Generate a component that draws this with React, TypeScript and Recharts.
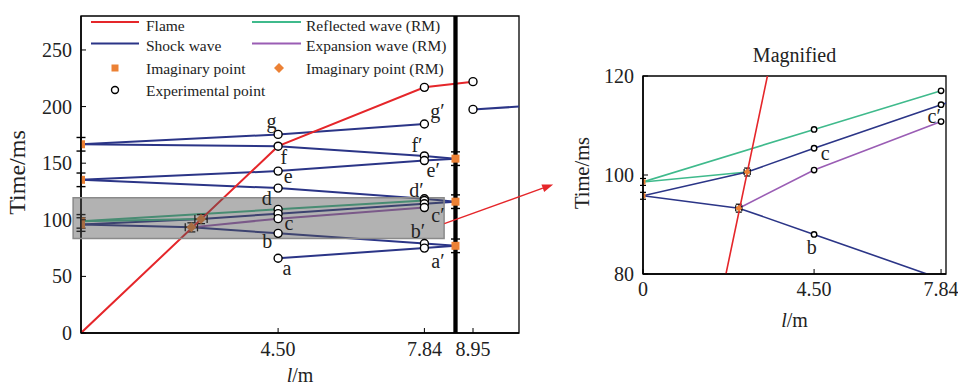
import React from 'react';
import {
  ComposedChart,
  Line,
  Scatter,
  XAxis,
  YAxis,
  ReferenceArea,
  ReferenceLine,
  ErrorBar,
  Legend,
} from 'recharts';

const FONT = '"Liberation Serif", "Times New Roman", Times, serif';
const RED = '#e5262a';
const NAVY = '#2b3587';
const GREEN = '#3fba8c';
const PURPLE = '#9a5db4';
const ORANGE = '#ec8135';
const TXT = '#222';

// ---------- data (l in m, time in ms) ----------
const flame = [[0, 0], [4.5, 165], [7.84, 217], [8.95, 222]];
const shockA = [[4.5, 66], [7.84, 75], [8.55, 77]];
const shockB = [[0, 95.8], [2.52, 93.3], [4.5, 88], [7.84, 79], [8.55, 77]];
const shockC = [[0, 95.8], [2.74, 100.6], [4.5, 105.4], [7.84, 114.2], [8.55, 116]];
const shockD = [[0, 135.3], [4.5, 128], [7.84, 118.6], [8.55, 116]];
const shockE = [[0, 135.3], [4.5, 143], [7.84, 152.3], [8.55, 154]];
const shockF = [[0, 166.7], [4.5, 165], [7.84, 156.4], [8.55, 154]];
const shockG = [[0, 166.7], [4.5, 175.4], [7.84, 184.6]];
const shockH = [[8.95, 197.5], [10, 200]];
const reflected = [[0, 98.6], [4.5, 109.2], [7.84, 117]];
const reflectedShort = [[0, 98.6], [2.74, 100.6]];
const expansion = [[2.52, 93.3], [4.5, 101], [7.84, 110.8]];

const expMain = [
  [4.5, 175.4], [4.5, 165], [4.5, 143], [4.5, 128], [4.5, 109.2], [4.5, 105.4], [4.5, 101], [4.5, 88], [4.5, 66],
  [7.84, 217], [7.84, 184.6], [7.84, 156.4], [7.84, 152.3], [7.84, 118.6], [7.84, 117], [7.84, 114.2], [7.84, 110.8],
  [7.84, 79], [7.84, 75], [8.95, 222], [8.95, 197.5],
];
const expMag = [[4.5, 109.2], [7.84, 117], [4.5, 105.4], [7.84, 114.2], [4.5, 101], [7.84, 110.8], [4.5, 88]];

const imagMain = [[0, 166.7], [0, 135.3], [0, 98.6], [0, 95.8], [8.55, 154], [8.55, 116], [8.55, 77]];
const imagMag = [[0, 98.6], [0, 95.8]];
const imagRM = [[2.52, 93.3], [2.74, 100.6]];
const errMainY = 6;
const errMagY = 0.7;
const errRMMainX = 0.14;
const errRMMainY = 4;
const errRMMagX = 0.08;
const errRMMagY = 0.8;

const wallX = 8.55;
const boxX = [-0.18, 8.29];
const boxY = [83.4, 119.5];
const arrowFrom = { x: 8.295, y: 96.6 };
const arrowTo = { x: 10.78, y: 131.2 };

const labelsMain = [
  { t: 'a', x: 4.7, y: 51.1 },
  { t: 'b', x: 4.25, y: 74.8 },
  { t: 'c', x: 4.75, y: 90.7 },
  { t: 'd', x: 4.24, y: 112.7 },
  { t: 'e', x: 4.73, y: 132.3 },
  { t: 'f', x: 4.63, y: 149.4 },
  { t: 'g', x: 4.35, y: 180.9 },
  { t: 'a\u2032', x: 8.15, y: 57.2 },
  { t: 'b\u2032', x: 7.69, y: 83.6 },
  { t: 'c\u2032', x: 8.15, y: 98 },
  { t: 'd\u2032', x: 7.66, y: 120 },
  { t: 'e\u2032', x: 8.04, y: 137.6 },
  { t: 'f\u2032', x: 7.67, y: 159.6 },
  { t: 'g\u2032', x: 8.14, y: 190.1 },
];
const labelsMag = [
  { t: 'c', x: 4.79, y: 103.0 },
  { t: 'c\u2032', x: 7.66, y: 110.5 },
  { t: 'b', x: 4.44, y: 84.1 },
];

const mainXTicks = [4.5, 7.84, 8.95];
const mainYTicks = [0, 50, 100, 150, 200, 250];
const magXTicks = [0, 4.5, 7.84];
const magYTicks = [80, 100, 120];
const mainXDomain = [0, 10];
const mainYDomain = [0, 280];
const magXDomain = [0, 7.97];
const magYDomain = [80, 120];

// ---------- helpers ----------
type Pt = { x: number; y: number; ex?: number; ey?: number; t?: string };
const toPts = (a: number[][], ex?: number, ey?: number): Pt[] =>
  a.map(([x, y]) => ({ x, y, ex, ey }));

const circleShape = (r: number) => (p: any) =>
  <circle cx={p.cx} cy={p.cy} r={r} fill="#fff" stroke="#000" strokeWidth={1.4} />;
const squareShape = (s: number) => (p: any) =>
  <rect x={p.cx - s / 2} y={p.cy - s / 2} width={s} height={s} fill={ORANGE} />;
const diamondShape = (s: number) => (p: any) =>
  <polygon
    points={`${p.cx},${p.cy - s / 2} ${p.cx + s / 2},${p.cy} ${p.cx},${p.cy + s / 2} ${p.cx - s / 2},${p.cy}`}
    fill={ORANGE}
  />;
const textShape = (p: any) =>
  <text x={p.cx} y={p.cy} textAnchor="middle" fontSize={20} fontFamily={FONT} fill={TXT}
    style={{ fontFamily: FONT }}>{p.payload.t}</text>;

const ArrowShape = (p: any) => {
  const { x1, y1, x2, y2 } = p;
  const ang = Math.atan2(y2 - y1, x2 - x1);
  const L = 11, W = 4;
  const bx = x2 - L * Math.cos(ang), by = y2 - L * Math.sin(ang);
  const nx = -Math.sin(ang) * W, ny = Math.cos(ang) * W;
  return (
    <g>
      <line x1={x1} y1={y1} x2={bx} y2={by} stroke={RED} strokeWidth={1.4} />
      <polygon points={`${x2},${y2} ${bx + nx},${by + ny} ${bx - nx},${by - ny}`} fill={RED} />
    </g>
  );
};

const fmt2 = (v: number) => (v === 0 ? '0' : v.toFixed(2));
const YTick = (p: any) => (
  <text x={p.x} y={p.y} dy="0.35em" textAnchor="end" fontSize={20} fill={TXT}
    style={{ fontFamily: FONT }}>{String(p.payload.value)}</text>
);
const XTick = (p: any) => (
  <text x={p.x} y={p.y} dy="0.71em" textAnchor="middle" fontSize={20} fill={TXT}
    style={{ fontFamily: FONT }}>{fmt2(p.payload.value)}</text>
);

const MainLegend = () => {
  const row = [22, 43.5, 68, 90];
  const base = [31, 51, 73.5, 95.5];
  const c1 = { l1: 91, l2: 139, m: 115, t: 146 };
  const c2 = { l1: 252, l2: 301, m: 279, t: 306 };
  const tp = { fontSize: 15.5, fill: TXT, style: { fontFamily: FONT } } as const;
  return (
    <svg width={540} height={110} style={{ display: 'block' }}>
      <line x1={c1.l1} x2={c1.l2} y1={row[0]} y2={row[0]} stroke={RED} strokeWidth={2} />
      <text x={c1.t} y={base[0]} {...tp}>Flame</text>
      <line x1={c1.l1} x2={c1.l2} y1={row[1]} y2={row[1]} stroke={NAVY} strokeWidth={2} />
      <text x={c1.t} y={base[1]} {...tp}>Shock wave</text>
      <rect x={c1.m - 3.5} y={row[2] - 3.5} width={7} height={7} fill={ORANGE} />
      <text x={c1.t} y={base[2]} {...tp}>Imaginary point</text>
      <circle cx={c1.m} cy={row[3]} r={3.5} fill="#fff" stroke="#000" strokeWidth={1.4} />
      <text x={c1.t} y={base[3]} {...tp}>Experimental point</text>
      <line x1={c2.l1} x2={c2.l2} y1={row[0]} y2={row[0]} stroke={GREEN} strokeWidth={2} />
      <text x={c2.t} y={base[0]} {...tp}>Reflected wave (RM)</text>
      <line x1={c2.l1} x2={c2.l2} y1={row[1]} y2={row[1]} stroke={PURPLE} strokeWidth={2} />
      <text x={c2.t} y={base[1]} {...tp}>Expansion wave (RM)</text>
      <polygon points={`${c2.m},${row[2] - 5} ${c2.m + 5},${row[2]} ${c2.m},${row[2] + 5} ${c2.m - 5},${row[2]}`} fill={ORANGE} />
      <text x={c2.t} y={base[2]} {...tp}>Imaginary point (RM)</text>
    </svg>
  );
};

const axisLine = { stroke: '#000', strokeWidth: 1.5 };

const yTitle = (dx: number, size: number) => (props: any) => {
  const vb = props.viewBox;
  const cx = vb.x + dx;
  const cy = vb.y + vb.height / 2 - 2;
  return (
    <text x={cx} y={cy} transform={`rotate(-90, ${cx}, ${cy})`} textAnchor="middle"
      fontSize={size} fill={TXT} style={{ fontFamily: FONT }}>Time/ms</text>
  );
};
const xTitle = (dy: number) => (props: any) => {
  const vb = props.viewBox;
  return (
    <text x={vb.x + vb.width / 2} y={vb.y + dy} textAnchor="middle" fontSize={20} fill={TXT}
      style={{ fontFamily: FONT }}>
      <tspan fontStyle="italic">l</tspan>/m
    </text>
  );
};
const TitleLabel = (props: any) => {
  const vb = props.viewBox;
  return (
    <text x={vb.x + vb.width / 2} y={vb.y - 14} textAnchor="middle" fontSize={20} fill={TXT}
      style={{ fontFamily: FONT }}>Magnified</text>
  );
};

const MainChart = () => (
  <ComposedChart width={560} height={386} margin={{ top: 16, right: 41, bottom: 0, left: 0 }}
    style={{ fontFamily: FONT }}>
    <XAxis type="number" dataKey="x" domain={mainXDomain} ticks={mainXTicks} allowDataOverflow
      height={53} tickSize={-5} tickMargin={14}
      tick={XTick} axisLine={axisLine} tickLine={{ stroke: '#000' }} label={xTitle(49)} />
    <YAxis type="number" dataKey="y" domain={mainYDomain} ticks={mainYTicks} allowDataOverflow
      width={81} tickSize={-5} tickMargin={14} tick={YTick} axisLine={axisLine}
      tickLine={{ stroke: '#000' }} label={yTitle(25, 24)} />
    <Legend verticalAlign="middle" align="center" layout="horizontal"
      wrapperStyle={{ left: 0, top: 0, width: 540, height: 110 }} content={() => <MainLegend />} />
    <ReferenceArea x1={mainXDomain[0]} x2={mainXDomain[1]} y1={mainYDomain[0]} y2={mainYDomain[1]}
      fill="none" stroke="#000" strokeWidth={1.3} fillOpacity={0} ifOverflow="visible" zIndex={50} />
    {[shockA, shockB, shockC, shockD, shockE, shockF, shockG, shockH].map((d, i) => (
      <Line key={'s' + i} data={toPts(d)} dataKey="y" stroke={NAVY} strokeWidth={2} dot={false}
        isAnimationActive={false} zIndex={400} />
    ))}
    <Line data={toPts(reflected)} dataKey="y" stroke={GREEN} strokeWidth={2} dot={false} isAnimationActive={false} zIndex={400} />
    <Line data={toPts(reflectedShort)} dataKey="y" stroke={GREEN} strokeWidth={2} dot={false} isAnimationActive={false} zIndex={400} />
    <Line data={toPts(expansion)} dataKey="y" stroke={PURPLE} strokeWidth={2} dot={false} isAnimationActive={false} zIndex={400} />
    <Line data={toPts(flame)} dataKey="y" stroke={RED} strokeWidth={2} dot={false} isAnimationActive={false} zIndex={410} />
    <ReferenceLine x={wallX} stroke="#000" strokeWidth={4.3} zIndex={420} />
    <Scatter data={toPts(imagMain, 0, errMainY)} dataKey="y" shape={squareShape(8)} isAnimationActive={false} zIndex={450}>
      <ErrorBar dataKey="ey" direction="y" width={4.5} stroke="#000" strokeWidth={1.4} />
    </Scatter>
    <Scatter data={toPts(imagRM, errRMMainX, errRMMainY)} dataKey="y" shape={diamondShape(10)} isAnimationActive={false} zIndex={450}>
      <ErrorBar dataKey="ey" direction="y" width={4} stroke="#000" strokeWidth={1.3} />
      <ErrorBar dataKey="ex" direction="x" width={4} stroke="#000" strokeWidth={1.3} />
    </Scatter>
    <ReferenceArea x1={boxX[0]} x2={boxX[1]} y1={boxY[0]} y2={boxY[1]} fill="#555" fillOpacity={0.45}
      stroke="#8a8a8a" strokeWidth={1.5} ifOverflow="visible" zIndex={500} />
    <Scatter data={toPts(expMain)} dataKey="y" shape={circleShape(4)} isAnimationActive={false} zIndex={700} />
    <Scatter data={labelsMain} dataKey="y" shape={textShape} isAnimationActive={false} zIndex={800} />
    <ReferenceLine segment={[arrowFrom, arrowTo]} ifOverflow="visible" shape={ArrowShape} zIndex={900} />
  </ComposedChart>
);

const MagChart = () => (
  <ComposedChart width={398} height={386} margin={{ top: 76, right: 12, bottom: 0, left: 0 }}
    style={{ fontFamily: FONT }}>
    <XAxis type="number" dataKey="x" domain={magXDomain} ticks={magXTicks} allowDataOverflow
      height={112} tickSize={-5} tickMargin={13}
      tick={XTick} axisLine={axisLine} tickLine={{ stroke: '#000' }} label={xTitle(53)} />
    <YAxis type="number" dataKey="y" domain={magYDomain} ticks={magYTicks} allowDataOverflow
      width={83} tickSize={-5} tickMargin={14} tick={YTick} axisLine={axisLine}
      tickLine={{ stroke: '#000' }} label={yTitle(29, 20.5)} />
    <ReferenceArea x1={magXDomain[0]} x2={magXDomain[1]} y1={magYDomain[0]} y2={magYDomain[1]}
      fill="none" fillOpacity={0} stroke="#000" strokeWidth={1.3} ifOverflow="visible" zIndex={50}
      label={TitleLabel} />
    <Line data={toPts(reflected)} dataKey="y" stroke={GREEN} strokeWidth={1.6} dot={false} isAnimationActive={false} zIndex={400} />
    <Line data={toPts(reflectedShort)} dataKey="y" stroke={GREEN} strokeWidth={1.6} dot={false} isAnimationActive={false} zIndex={400} />
    <Line data={toPts(shockB)} dataKey="y" stroke={NAVY} strokeWidth={1.6} dot={false} isAnimationActive={false} zIndex={400} />
    <Line data={toPts(shockC)} dataKey="y" stroke={NAVY} strokeWidth={1.6} dot={false} isAnimationActive={false} zIndex={400} />
    <Line data={toPts(expansion)} dataKey="y" stroke={PURPLE} strokeWidth={1.6} dot={false} isAnimationActive={false} zIndex={400} />
    <Line data={toPts(flame)} dataKey="y" stroke={RED} strokeWidth={1.6} dot={false} isAnimationActive={false} zIndex={410} />
    <Scatter data={toPts(imagMag, 0, errMagY)} dataKey="y" shape={squareShape(5)} isAnimationActive={false} zIndex={450}>
      <ErrorBar dataKey="ey" direction="y" width={3} stroke="#000" strokeWidth={1.2} />
    </Scatter>
    <Scatter data={toPts(imagRM, errRMMagX, errRMMagY)} dataKey="y" shape={diamondShape(7)} isAnimationActive={false} zIndex={450}>
      <ErrorBar dataKey="ey" direction="y" width={3} stroke="#000" strokeWidth={1.2} />
      <ErrorBar dataKey="ex" direction="x" width={3} stroke="#000" strokeWidth={1.2} />
    </Scatter>
    <Scatter data={toPts(expMag)} dataKey="y" shape={circleShape(2.7)} isAnimationActive={false} zIndex={700} />
    <Scatter data={labelsMag} dataKey="y" shape={textShape} isAnimationActive={false} zIndex={800} />
  </ComposedChart>
);

export default function App() {
  return (
    <div style={{ position: 'absolute', left: 0, top: 0, width: 958, height: 386, background: '#fff', fontFamily: FONT }}>
      <div style={{ position: 'absolute', left: 0, top: 0 }}>
        <MainChart />
      </div>
      <div style={{ position: 'absolute', left: 560, top: 0 }}>
        <MagChart />
      </div>
    </div>
  );
}
